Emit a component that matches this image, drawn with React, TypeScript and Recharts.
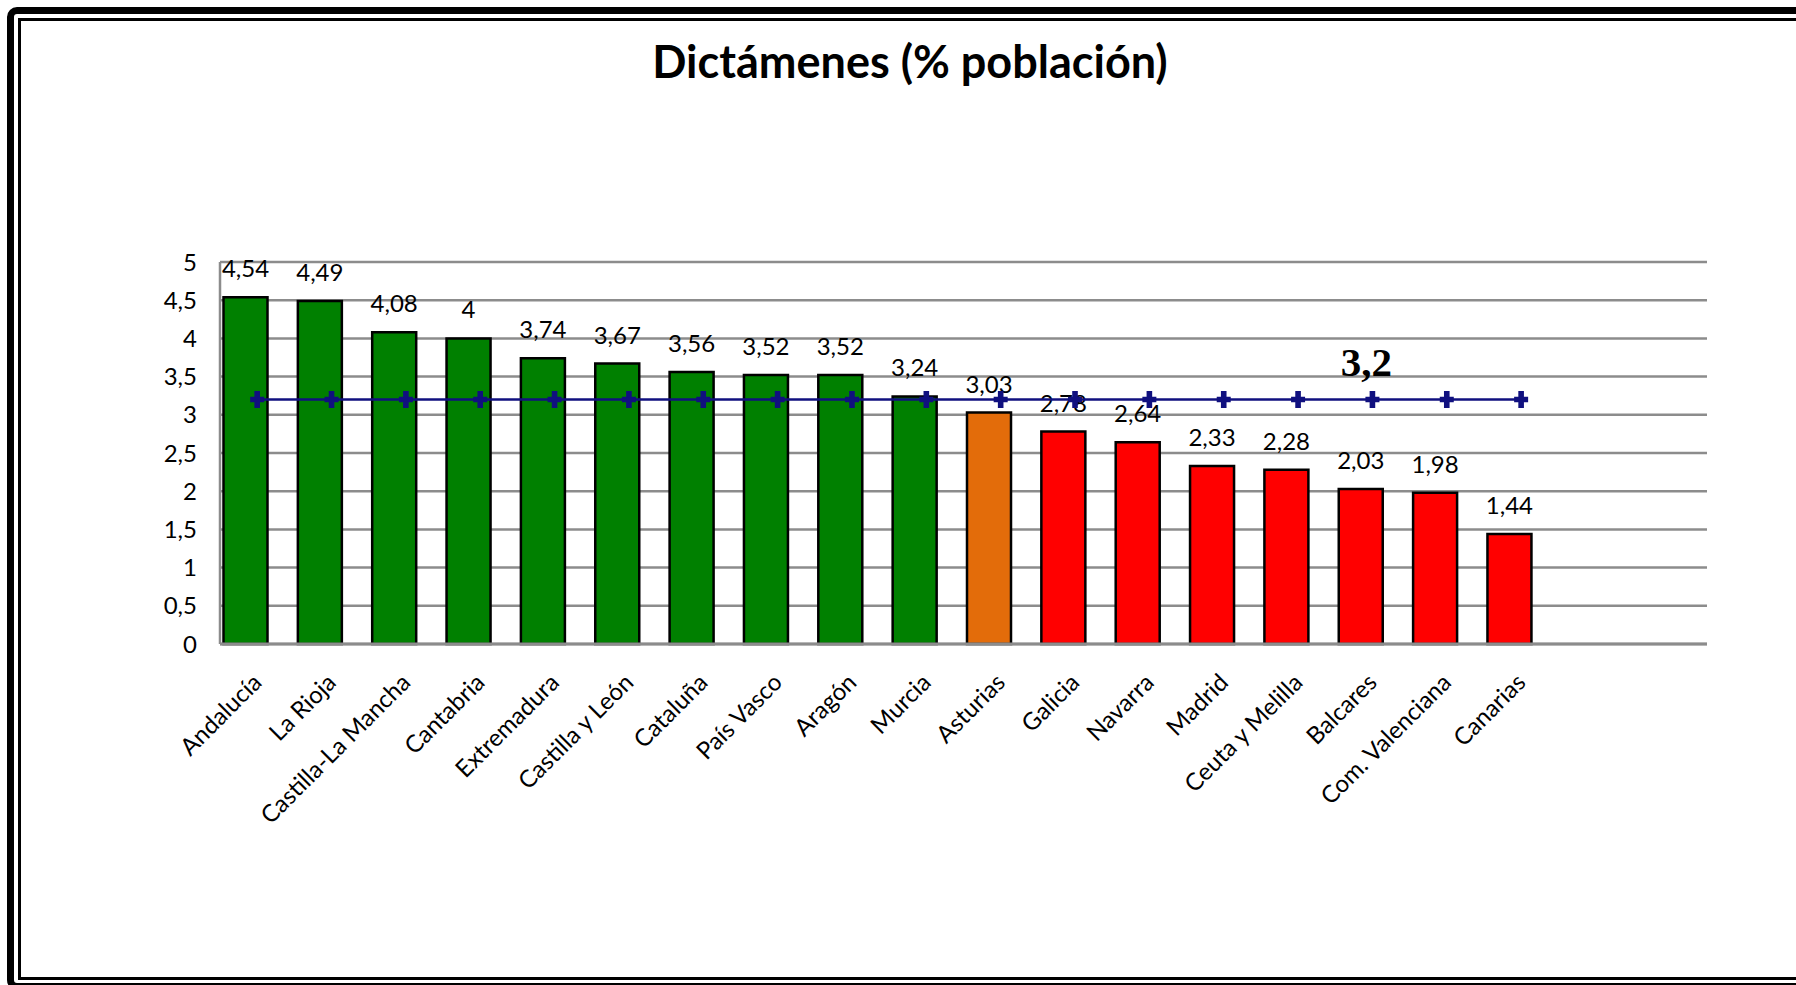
import React from "react";
import { ComposedChart, Bar, Line, XAxis, YAxis, CartesianGrid, Rectangle } from "recharts";

const categories = [
  "Andalucía", "La Rioja", "Castilla-La Mancha", "Cantabria", "Extremadura",
  "Castilla y León", "Cataluña", "País Vasco", "Aragón", "Murcia",
  "Asturias", "Galicia", "Navarra", "Madrid", "Ceuta y Melilla",
  "Balcares", "Com. Valenciana", "Canarias", " ", "  ",
];
const dictamenes: (number | null)[] = [
  4.54, 4.49, 4.08, 4, 3.74, 3.67, 3.56, 3.52, 3.52, 3.24,
  3.03, 2.78, 2.64, 2.33, 2.28, 2.03, 1.98, 1.44, null, null,
];
const mediaNacional = 3.2;
const averageLabelCategory = "Balcares";
const yTicks = [0, 0.5, 1, 1.5, 2, 2.5, 3, 3.5, 4, 4.5, 5];

const data = categories.map((name, i) => ({
  name,
  value: dictamenes[i],
  media: dictamenes[i] == null ? null : mediaNacional,
}));

const GREEN = "#008000";
const ORANGE = "#E36C0A";
const RED = "#FF0000";
const NAVY = "#10107F";
const GRID = "#8c8c8c";
const BAR_SHIFT = -11.5;
const FONT = "Lato, 'Open Sans', sans-serif";

const fmt = (v: number) => String(v).replace(".", ",");
const colorFor = (v: number) => (v >= mediaNacional ? GREEN : v >= 3 ? ORANGE : RED);

const BarShape = (props: any) => {
  const { x, y, width, height, payload } = props;
  if (payload == null || payload.value == null) return <g />;
  return (
    <g>
      <Rectangle
        x={x + BAR_SHIFT}
        y={y}
        width={width}
        height={height}
        fill={colorFor(payload.value)}
        stroke="#000"
        strokeWidth={2.5}
      />
      <text
        x={x + BAR_SHIFT + width / 2}
        y={y - 20}
        textAnchor="middle"
        fontFamily={FONT}
        fontSize={24}
        fill="#000"
      >
        {fmt(payload.value)}
      </text>
    </g>
  );
};

const PlusDot = (props: any) => {
  const { cx, cy, index, payload } = props;
  if (cx == null || cy == null || payload?.media == null) return <g key={`d${index}`} />;
  const a = 7, b = 8.5, t = 2.8;
  const d = `M${cx - t},${cy - b} H${cx + t} V${cy - t} H${cx + a} V${cy + t} H${cx + t} V${cy + b} H${cx - t} V${cy + t} H${cx - a} V${cy - t} H${cx - t} Z`;
  return (
    <g key={`d${index}`}>
      <path d={d} fill={NAVY} />
      {payload.name === averageLabelCategory ? (
        <text
          x={cx - 6}
          y={cy - 24}
          textAnchor="middle"
          fontFamily="'Liberation Serif', 'Times New Roman', serif"
          fontWeight="bold"
          fontSize={41}
          fill="#000"
        >
          {fmt(mediaNacional)}
        </text>
      ) : null}
    </g>
  );
};

const XTick = (props: any) => {
  const { x, y, payload } = props;
  return (
    <g transform={`translate(${x + 6},${y + 40})`}>
      <text
        textAnchor="end"
        transform="rotate(-45)"
        fontFamily={FONT}
        fontSize={24}
        fill="#000"
      >
        {payload.value}
      </text>
    </g>
  );
};

export default function App() {
  return (
    <div
      style={{
        position: "absolute",
        left: 0,
        top: 0,
        width: 1796,
        height: 985,
        overflow: "hidden",
        background: "#fff",
      }}
    >
      <div
        style={{
          position: "absolute",
          left: 7,
          top: 7,
          width: 1900,
          height: 983,
          boxSizing: "border-box",
          border: "7px solid #000",
          borderRadius: 10,
        }}
      />
      <div
        style={{
          position: "absolute",
          left: 18,
          top: 18,
          width: 1900,
          height: 962,
          boxSizing: "border-box",
          border: "3px solid #000",
        }}
      />
      <svg
        width={1796}
        height={120}
        style={{ position: "absolute", left: 0, top: 0 }}
      >
        <text
          x={910}
          y={78}
          textAnchor="middle"
          fontFamily={FONT}
          fontWeight="bold"
          fontSize={45}
          fill="#000"
        >
          Dictámenes (% población)
        </text>
      </svg>
      <div style={{ position: "absolute", left: 0, top: 0 }}>
        <ComposedChart
          width={1796}
          height={985}
          data={data}
          margin={{ top: 262, right: 89, bottom: 311, left: 140 }}
          barSize={44}
        >
          <CartesianGrid
            horizontal
            vertical={false}
            stroke={GRID}
            strokeWidth={2.5}
          />
          <XAxis
            dataKey="name"
            height={30}
            interval={0}
            tickLine={false}
            tickSize={0}
            tickMargin={0}
            axisLine={{ stroke: GRID, strokeWidth: 3 }}
            tick={<XTick />}
          />
          <YAxis
            width={80}
            domain={[0, 5]}
            ticks={yTicks}
            interval={0}
            tickLine={false}
            tickSize={0}
            tickMargin={23}
            tickFormatter={(v: number) => fmt(v)}
            axisLine={{ stroke: GRID, strokeWidth: 2.5 }}
            tick={{ fill: "#000", fontSize: 24, fontFamily: FONT }}
          />
          <Bar dataKey="value" isAnimationActive={false} shape={<BarShape />} />
          <Line
            dataKey="media"
            type="linear"
            stroke={NAVY}
            strokeWidth={2.5}
            dot={(p: any) => <PlusDot {...p} />}
            activeDot={false}
            connectNulls={false}
            isAnimationActive={false}
          />
        </ComposedChart>
      </div>
    </div>
  );
}
